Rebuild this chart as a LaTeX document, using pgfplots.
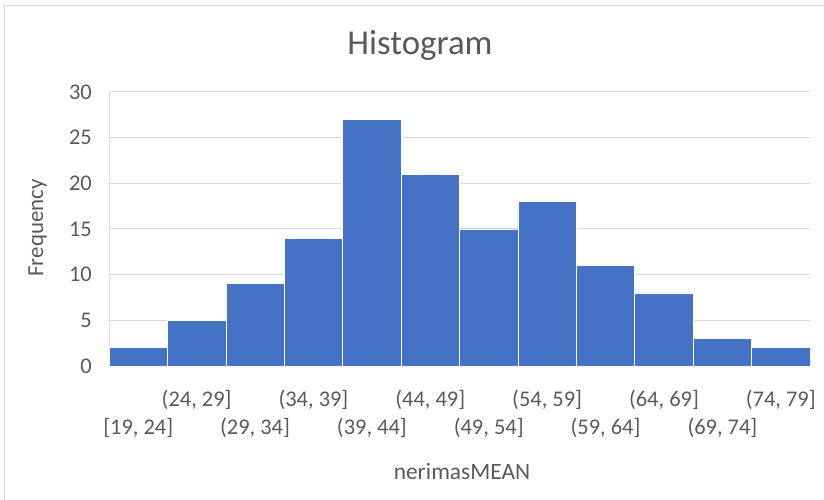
\documentclass[border=0pt]{standalone}
\usepackage{pgfplots}
\pgfplotsset{compat=1.18}
\usepackage{fontspec}
\setmainfont{Carlito}
\definecolor{barblue}{HTML}{4472C4}
\definecolor{gridgray}{HTML}{D9D9D9}
\definecolor{txtgray}{HTML}{595959}
\begin{document}
\begin{tikzpicture}[x=1bp,y=1bp]
\path[use as bounding box] (0,0) rectangle (824,500);
\draw[gridgray, line width=1bp] (4.5,-5) |- (830,494);
\begin{axis}[
  at={(109bp,134bp)}, anchor=south west,
  scale only axis, width=701bp, height=274bp,
  xmin=0, xmax=12, ymin=0, ymax=30,
  enlargelimits=false,
  axis x line*=bottom, axis y line*=left,
  axis line style={draw=gridgray, line width=1bp, -},
  ymajorgrids, grid style={draw=gridgray, line width=1bp},
  major tick length=0pt,
  ytick={0,5,...,30},
  yticklabel style={anchor=east, inner sep=0pt, xshift=-17bp, font=\fontsize{22.5}{26}\selectfont, text=txtgray},
  /pgf/number format/assume math mode=true,
  xtick={1.5,3.5,5.5,7.5,9.5,11.5},
  xticklabels={{(24, 29]},{(34, 39]},{(44, 49]},{(54, 59]},{(64, 69]},{(74, 79]}},
  xticklabel style={anchor=center, inner sep=0pt, yshift=-34bp, font=\fontsize{22.5}{26}\selectfont, text=txtgray},
  extra x ticks={0.5,2.5,4.5,6.5,8.5,10.5},
  extra x tick labels={{[19, 24]},{(29, 34]},{(39, 44]},{(49, 54]},{(59, 64]},{(69, 74]}},
  extra x tick style={xticklabel style={yshift=-28bp}, grid=none},
]
\addplot[ybar, bar width=1, fill=barblue, draw=white, line width=0.6bp] coordinates {
 (0.5,2) (1.5,5) (2.5,9) (3.5,14) (4.5,27) (5.5,21)
 (6.5,15) (7.5,18) (8.5,11) (9.5,8) (10.5,3) (11.5,2)
};
\end{axis}
\node[anchor=base, text=txtgray, font=\fontsize{35}{40}\selectfont] at (420,445) {Histogram};
\node[anchor=base, text=txtgray, font=\fontsize{23.5}{28}\selectfont] at (462,20) {nerimasMEAN};
\node[anchor=base, rotate=90, text=txtgray, font=\fontsize{23}{28}\selectfont] at (43,272) {Frequency};
\end{tikzpicture}
\end{document}
